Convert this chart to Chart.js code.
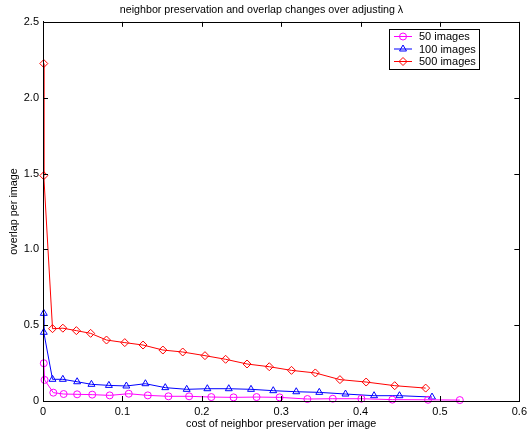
<!DOCTYPE html>
<html>
<head>
<meta charset="utf-8">
<script src="https://cdn.jsdelivr.net/npm/chart.js@4.4.1/dist/chart.umd.min.js"></script>
<style>
html,body{margin:0;padding:0;background:#fff;}
#c{display:block;}
</style>
</head>
<body>
<canvas id="c" width="531" height="429"></canvas>
<script>
// ---- data ----
const titleText = 'neighbor preservation and overlap changes over adjusting \u03bb';
const xAxisTitle = 'cost of neighbor preservation per image';
const yAxisTitle = 'overlap per image';
const seriesNames = ['50 images', '100 images', '500 images'];

const x50 = [0.001, 0.002, 0.013, 0.026, 0.043, 0.062, 0.084, 0.108, 0.132, 0.158, 0.184, 0.212, 0.240, 0.269, 0.298, 0.333, 0.365, 0.401, 0.440, 0.485, 0.525];
const y50 = [0.249, 0.139, 0.055, 0.046, 0.044, 0.042, 0.037, 0.048, 0.037, 0.031, 0.031, 0.026, 0.024, 0.026, 0.024, 0.013, 0.015, 0.015, 0.009, 0.008, 0.006];

const x100 = [0.001, 0.001, 0.012, 0.025, 0.043, 0.061, 0.083, 0.105, 0.129, 0.154, 0.181, 0.207, 0.234, 0.262, 0.290, 0.319, 0.348, 0.381, 0.417, 0.449, 0.490];
const y100 = [0.578, 0.453, 0.143, 0.143, 0.127, 0.110, 0.103, 0.099, 0.114, 0.088, 0.077, 0.081, 0.081, 0.077, 0.068, 0.061, 0.057, 0.046, 0.035, 0.035, 0.026];

const x500 = [0.001, 0.001, 0.012, 0.025, 0.042, 0.060, 0.080, 0.103, 0.126, 0.151, 0.176, 0.204, 0.230, 0.257, 0.285, 0.313, 0.343, 0.374, 0.407, 0.443, 0.482];
const y500 = [2.225, 1.486, 0.477, 0.480, 0.464, 0.446, 0.402, 0.385, 0.369, 0.336, 0.323, 0.299, 0.275, 0.244, 0.226, 0.202, 0.185, 0.141, 0.125, 0.101, 0.085];

const xTicks = [0, 0.1, 0.2, 0.3, 0.4, 0.5, 0.6];
const yTicks = [0, 0.5, 1, 1.5, 2, 2.5];

// ---- chart ----
const FONT = '"Liberation Sans", Arial, Helvetica, sans-serif';
const pairs = (xs, ys) => xs.map((x, i) => ({x: x, y: ys[i]}));

const colors = ['#ff00ff', '#0000ff', '#ff0000'];
const styles = ['circle', 'triangle', 'rectRot'];
const radii = [3.5, 4, 4];

const datasets = [pairs(x50, y50), pairs(x100, y100), pairs(x500, y500)].map((d, i) => ({
  label: seriesNames[i],
  data: d,
  showLine: true,
  borderColor: colors[i],
  backgroundColor: 'rgba(0,0,0,0)',
  borderWidth: 1,
  pointStyle: styles[i],
  pointRadius: radii[i],
  pointBorderWidth: 1,
  pointBorderColor: colors[i],
  pointBackgroundColor: 'rgba(0,0,0,0)',
  tension: 0,
  clip: false
}));

const framePlugin = {
  id: 'frame',
  afterDraw(chart) {
    const ctx = chart.ctx;
    const a = chart.chartArea;
    const xs = chart.scales.x, ys = chart.scales.y;
    ctx.save();
    ctx.strokeStyle = '#000';
    ctx.lineWidth = 1;
    ctx.strokeRect(Math.round(a.left) + 0.5, Math.round(a.top) + 0.5, Math.round(a.right - a.left), Math.round(a.bottom - a.top));
    const tl = 5;
    ctx.beginPath();
    xTicks.forEach(v => {
      const px = Math.round(xs.getPixelForValue(v)) + 0.5;
      ctx.moveTo(px, a.bottom); ctx.lineTo(px, a.bottom - tl);
      ctx.moveTo(px, a.top); ctx.lineTo(px, a.top + tl);
    });
    yTicks.forEach(v => {
      const py = Math.round(ys.getPixelForValue(v)) + 0.5;
      ctx.moveTo(a.left, py); ctx.lineTo(a.left + tl, py);
      ctx.moveTo(a.right, py); ctx.lineTo(a.right - tl, py);
    });
    ctx.stroke();

    // legend box
    const lx = 389.5, ly = 29.5, lw = 90, lh = 40;
    ctx.fillStyle = '#fff';
    ctx.fillRect(lx, ly, lw, lh);
    ctx.strokeRect(lx, ly, lw, lh);
    ctx.font = '11px ' + FONT;
    ctx.textBaseline = 'middle';
    ctx.textAlign = 'left';
    const rowsY = [36.5, 49, 61.5];
    datasets.forEach((ds, i) => {
      const y = rowsY[i];
      ctx.strokeStyle = ds.borderColor;
      ctx.beginPath();
      ctx.moveTo(394, y); ctx.lineTo(412, y);
      ctx.stroke();
      if (Chart.helpers && Chart.helpers.drawPoint) {
        ctx.fillStyle = 'rgba(0,0,0,0)';
        ctx.strokeStyle = ds.borderColor;
        Chart.helpers.drawPoint(ctx, {pointStyle: ds.pointStyle, radius: ds.pointRadius, rotation: 0, borderWidth: 1}, 403, y);
      }
      ctx.fillStyle = '#000';
      ctx.fillText(ds.label, 419, y + 0.5);
    });
    ctx.restore();
  }
};

new Chart(document.getElementById('c'), {
  type: 'scatter',
  data: {datasets: datasets},
  options: {
    responsive: false,
    animation: false,
    devicePixelRatio: 1,
    layout: {padding: {left: 0, right: 8, top: 0, bottom: 0}},
    plugins: {
      legend: {display: false},
      tooltip: {enabled: false},
      title: {
        display: true,
        text: titleText,
        color: '#000',
        font: {family: FONT, size: 10.7, weight: 'normal'},
        padding: {top: 4, bottom: 5}
      }
    },
    scales: {
      x: {
        type: 'linear',
        min: 0, max: 0.6,
        afterBuildTicks: s => { s.ticks = xTicks.map(v => ({value: v})); },
        afterFit: s => { s.height = 28; },
        grid: {display: false, drawTicks: false},
        border: {display: true, color: '#000', width: 1},
        ticks: {color: '#000', font: {family: FONT, size: 11}, padding: 4, maxRotation: 0},
        title: {display: true, text: xAxisTitle, color: '#000', font: {family: FONT, size: 10.8, lineHeight: 1}, padding: {top: 0, bottom: 0}}
      },
      y: {
        type: 'linear',
        min: 0, max: 2.5,
        afterBuildTicks: s => { s.ticks = yTicks.map(v => ({value: v})); },
        afterFit: s => { s.width = 43; },
        grid: {display: false, drawTicks: false},
        border: {display: true, color: '#000', width: 1},
        ticks: {color: '#000', font: {family: FONT, size: 11}, padding: 4},
        title: {display: true, text: yAxisTitle, color: '#000', font: {family: FONT, size: 10.8}, padding: {top: 8, bottom: 0}}
      }
    }
  },
  plugins: [framePlugin]
});
</script>
</body>
</html>
